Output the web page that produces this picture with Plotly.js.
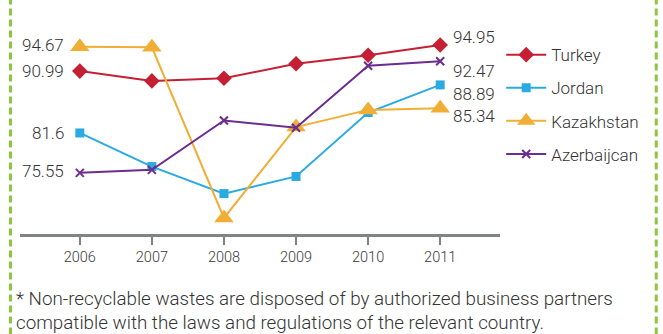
<!DOCTYPE html>
<html>
<head>
<meta charset="utf-8">
<script src="https://cdn.plot.ly/plotly-3.0.1.min.js"></script>
<style>
html,body{margin:0;padding:0;background:#fff;}
#chart{width:663px;height:334px;}
</style>
</head>
<body>
<div id="chart"></div>
<script>
var years = [2006, 2007, 2008, 2009, 2010, 2011];
var tickLabels = ["2006", "2007", "2008", "2009", "2010", "2011"];
var seriesNames = ["Turkey", "Jordan", "Kazakhstan", "Azerbaijcan"];
var turkey = [90.99, 89.5, 89.9, 92.1, 93.4, 94.95];
var jordan = [81.6, 76.5, 72.4, 75.0, 84.7, 88.89];
var kazakhstan = [94.67, 94.6, 68.7, 82.5, 85.1, 85.34];
var azerbaijan = [75.55, 76.0, 83.5, 82.4, 91.8, 92.47];
var footnote = "* Non-recyclable wastes are disposed of by authorized business partners<br>compatible with the laws and regulations of the relevant country.";

var seriesData = [turkey, jordan, kazakhstan, azerbaijan];
var colors = ["#c41f33", "#29abe2", "#f1ae35", "#6b2d90"];
var symbols = ["diamond", "square", "triangle-up", "x-thin"];
var sizes = [12, 9, 17, 8];
var leftShift = [0, 0, 2, 2];
var rightShift = [8, -9, -8, -10];

var traces = seriesData.map(function(vals, i){
  return {
    x: years, y: vals, name: seriesNames[i], type: "scatter", mode: "lines+markers",
    legendgroup: "g" + i,
    line: {color: colors[i], width: 2},
    marker: {symbol: symbols[i], size: sizes[i], color: colors[i],
             line: {color: colors[i], width: symbols[i] === "x-thin" ? 2 : 0}}
  };
});

var txtFont = {family: "Roboto, 'Noto Sans', sans-serif", size: 17, color: "#333333", weight: 300};
var annotations = [];
seriesData.forEach(function(vals, i){
  annotations.push({x: years[0], y: vals[0], xref: "x", yref: "y", text: String(vals[0]),
    showarrow: false, xanchor: "right", yanchor: "middle", xshift: -14, yshift: leftShift[i], font: txtFont});
  var n = vals.length - 1;
  annotations.push({x: years[n], y: vals[n], xref: "x", yref: "y", text: String(vals[n]),
    showarrow: false, xanchor: "left", yanchor: "middle", xshift: 11, yshift: rightShift[i], font: txtFont});
});
annotations.push({x: -0.012, y: -0.245, xref: "paper", yref: "paper", text: footnote,
  showarrow: false, xanchor: "left", yanchor: "top", align: "left",
  font: {family: "Roboto, 'Noto Sans', sans-serif", size: 18.8, color: "#333333", weight: 300}});

var green = "#8cc63f";
var shapes = [
  {type: "line", xref: "paper", yref: "paper", x0: -0.0198, x1: -0.0198, y0: -0.47, y1: 1.1,
   line: {color: green, width: 3, dash: "7px,4px"}},
  {type: "line", xref: "paper", yref: "paper", x0: 1.3255, x1: 1.3255, y0: -0.47, y1: 1.1,
   line: {color: green, width: 3, dash: "7px,4px"}}
];

var layout = {
  width: 663, height: 334,
  margin: {l: 20, r: 163, t: 20, b: 100},
  paper_bgcolor: "#ffffff", plot_bgcolor: "#ffffff",
  showlegend: true,
  legend: {x: 1.0025, y: 0.92, xanchor: "left", yanchor: "top", itemwidth: 40,
           tracegroupgap: 8, font: txtFont, bgcolor: "rgba(0,0,0,0)"},
  xaxis: {range: [2005.17, 2011.83], tickvals: years, ticktext: tickLabels,
          showgrid: false, zeroline: false, showline: true, linecolor: "#808285", linewidth: 2.5,
          ticks: "outside", ticklen: 8, tickwidth: 2, tickcolor: "#808285", ticklabelstandoff: 0,
          tickfont: {family: "Roboto, sans-serif", size: 14.5, color: "#3a3a3a", weight: 300},
          fixedrange: true},
  yaxis: {range: [66.27, 98.74], visible: false, showgrid: false, zeroline: false, fixedrange: true},
  annotations: annotations,
  shapes: shapes
};

Plotly.newPlot("chart", traces, layout, {displayModeBar: false, staticPlot: true});
</script>
</body>
</html>
